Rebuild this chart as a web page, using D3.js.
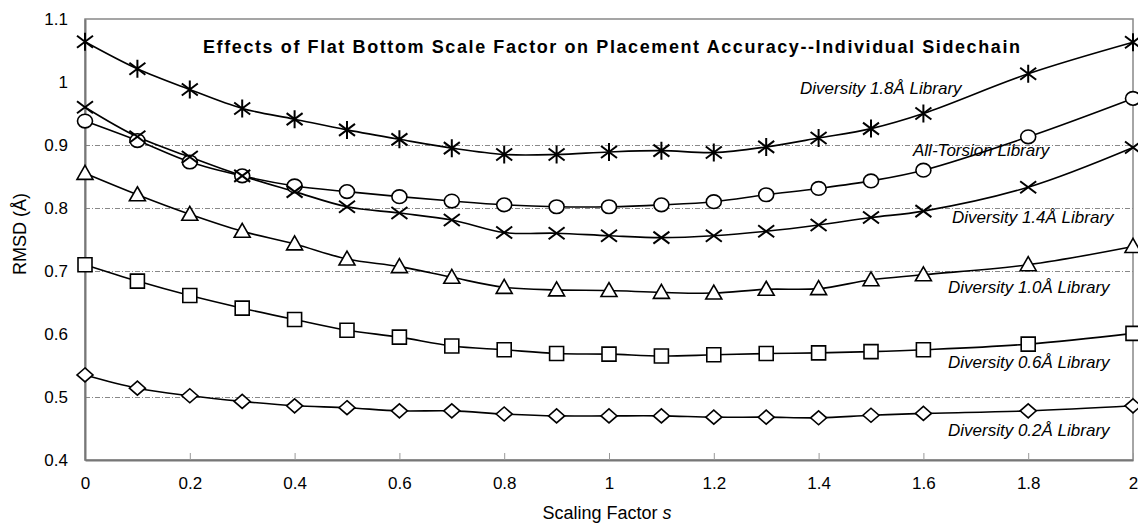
<!DOCTYPE html>
<html>
<head>
<meta charset="utf-8">
<script src="https://cdn.jsdelivr.net/npm/d3@7"></script>
<style>
  html, body { margin: 0; padding: 0; background: #fff; }
  svg { display: block; font-family: "Liberation Sans", Arial, sans-serif; }
</style>
</head>
<body>
<svg id="chart" width="1138" height="523"></svg>
<script>
// Scaling factor s at which placement accuracy was measured
const scaleFactors = [0, 0.1, 0.2, 0.3, 0.4, 0.5, 0.6, 0.7, 0.8, 0.9, 1.0, 1.1, 1.2, 1.3, 1.4, 1.5, 1.6, 1.8, 2.0];

// RMSD (Å) per library
const diversity18 = [1.064, 1.021, 0.988, 0.958, 0.941, 0.924, 0.909, 0.895, 0.885, 0.885, 0.889, 0.891, 0.888, 0.897, 0.911, 0.926, 0.950, 1.013, 1.063];
const allTorsion  = [0.938, 0.907, 0.873, 0.851, 0.835, 0.826, 0.818, 0.811, 0.805, 0.802, 0.802, 0.805, 0.810, 0.821, 0.831, 0.843, 0.860, 0.913, 0.974];
const diversity14 = [0.960, 0.913, 0.881, 0.851, 0.826, 0.802, 0.792, 0.781, 0.761, 0.760, 0.756, 0.753, 0.756, 0.763, 0.773, 0.785, 0.795, 0.833, 0.896];
const diversity10 = [0.855, 0.821, 0.790, 0.763, 0.743, 0.719, 0.707, 0.690, 0.674, 0.670, 0.669, 0.666, 0.665, 0.671, 0.672, 0.686, 0.694, 0.710, 0.739];
const diversity06 = [0.710, 0.684, 0.661, 0.641, 0.623, 0.606, 0.595, 0.581, 0.575, 0.569, 0.568, 0.565, 0.567, 0.569, 0.570, 0.572, 0.575, 0.584, 0.601];
const diversity02 = [0.535, 0.514, 0.502, 0.493, 0.486, 0.483, 0.478, 0.478, 0.473, 0.470, 0.470, 0.470, 0.468, 0.468, 0.467, 0.471, 0.474, 0.478, 0.486];

const seriesNames = ["Diversity 1.8Å Library", "All-Torsion Library", "Diversity 1.4Å Library",
                     "Diversity 1.0Å Library", "Diversity 0.6Å Library", "Diversity 0.2Å Library"];
const seriesValues = [diversity18, allTorsion, diversity14, diversity10, diversity06, diversity02];
const seriesMarkers = ["asterisk", "circle", "cross", "triangle", "square", "diamond"];

const xTicks = [0, 0.2, 0.4, 0.6, 0.8, 1.0, 1.2, 1.4, 1.6, 1.8, 2.0];
const yTicks = [0.4, 0.5, 0.6, 0.7, 0.8, 0.9, 1.0, 1.1];
const gridValues = [0.5, 0.7, 0.8, 0.9];

const titleText = "Effects of Flat Bottom Scale Factor on Placement Accuracy--Individual Sidechain";
const xTitle = "Scaling Factor ";
const xTitleVar = "s";
const yTitle = "RMSD (Å)";

const svg = d3.select("#chart");
const margin = { left: 85, right: 5, top: 19, bottom: 63 };
const W = 1138, H = 523;

const x = d3.scaleLinear().domain([0, 2]).range([margin.left, W - margin.right]);
const y = d3.scaleLinear().domain([0.4, 1.1]).range([H - margin.bottom, margin.top]);

// plot frame (top and right borders)
svg.append("rect")
  .attr("x", x(0)).attr("y", y(1.1))
  .attr("width", x(2) - x(0)).attr("height", y(0.4) - y(1.1))
  .attr("fill", "none").attr("stroke", "#888").attr("stroke-width", 1.5);

// dash-dot gridlines
svg.append("g").selectAll("line").data(gridValues).join("line")
  .attr("x1", x(0)).attr("x2", x(2))
  .attr("y1", d => Math.round(y(d)) + 0.5).attr("y2", d => Math.round(y(d)) + 0.5)
  .attr("stroke", "#888").attr("stroke-width", 1)
  .attr("stroke-dasharray", "5,2,1,2");

// x axis
const xAxis = svg.append("g")
  .attr("transform", `translate(0,${y(0.4)})`)
  .call(d3.axisBottom(x).tickValues(xTicks).tickSizeInner(-7).tickSizeOuter(0)
        .tickFormat(d => d3.format("~g")(d)));
xAxis.select(".domain").attr("stroke", "#777").attr("stroke-width", 2);
xAxis.selectAll(".tick line").attr("stroke", "#999");
xAxis.selectAll(".tick text")
  .attr("y", 17).attr("dy", "0.71em")
  .attr("font-size", 17).attr("fill", "#000")
  .attr("font-family", "Liberation Sans, Arial, sans-serif");

// y axis
const yAxis = svg.append("g")
  .attr("transform", `translate(${x(0)},0)`)
  .call(d3.axisLeft(y).tickValues(yTicks).tickSize(0)
        .tickFormat(d => d3.format("~g")(d)));
yAxis.select(".domain").attr("stroke", "#777").attr("stroke-width", 2);
yAxis.selectAll(".tick text")
  .attr("x", -17)
  .attr("font-size", 17).attr("fill", "#000")
  .attr("font-family", "Liberation Sans, Arial, sans-serif");

// axis titles
svg.append("text")
  .attr("x", (x(0) + x(2)) / 2 - 2).attr("y", 519)
  .attr("text-anchor", "middle").attr("font-size", 18)
  .text(xTitle)
  .append("tspan").attr("font-style", "italic").text(xTitleVar);

svg.append("text")
  .attr("transform", `translate(26,234) rotate(-90)`)
  .attr("text-anchor", "middle").attr("font-size", 18)
  .text(yTitle);

// chart title
svg.append("text")
  .attr("x", 203).attr("y", 53)
  .attr("font-size", 18).attr("font-weight", "bold")
  .attr("textLength", 817).attr("lengthAdjust", "spacing")
  .text(titleText);

// series lines
const line = d3.line()
  .x((d, i) => x(scaleFactors[i]))
  .y(d => y(d))
  .curve(d3.curveCatmullRom.alpha(0.5));

svg.append("g").selectAll("path").data(seriesValues).join("path")
  .attr("d", d => line(d))
  .attr("fill", "none").attr("stroke", "#000").attr("stroke-width", 1.6);

// marker shapes
function markerPath(type) {
  switch (type) {
    case "circle":
      return "M-7.5,0A7.5,6.8 0 1,0 7.5,0A7.5,6.8 0 1,0 -7.5,0Z";
    case "square":
      return "M-7,-7H7V7H-7Z";
    case "triangle":
      return "M0,-8L8,6H-8Z";
    case "diamond":
      return "M0,-7L8,0L0,7L-8,0Z";
    case "cross":
      return "M-8,-6L8,6M-8,6L8,-6";
    case "asterisk":
      return "M-8,-6L8,6M-8,6L8,-6M0,-9V9";
  }
}

const markerGroups = svg.append("g").selectAll("g").data(seriesValues).join("g");
markerGroups.each(function (vals, si) {
  const type = seriesMarkers[si];
  d3.select(this).selectAll("path").data(vals).join("path")
    .attr("transform", (d, i) => `translate(${x(scaleFactors[i])},${y(d)})`)
    .attr("d", markerPath(type))
    .attr("fill", (type === "cross" || type === "asterisk") ? "none" : "#fff")
    .attr("stroke", "#000")
    .attr("stroke-width", (type === "cross" || type === "asterisk") ? 2 : 1.6);
});

// series labels
const labelPos = [
  { x: 800, y: 94 },
  { x: 913, y: 156 },
  { x: 952, y: 223 },
  { x: 948, y: 293 },
  { x: 948, y: 368 },
  { x: 948, y: 436 }
];
svg.append("g").selectAll("text").data(seriesNames).join("text")
  .attr("x", (d, i) => labelPos[i].x)
  .attr("y", (d, i) => labelPos[i].y)
  .attr("font-size", 17).attr("font-style", "italic")
  .text(d => d);
</script>
</body>
</html>
